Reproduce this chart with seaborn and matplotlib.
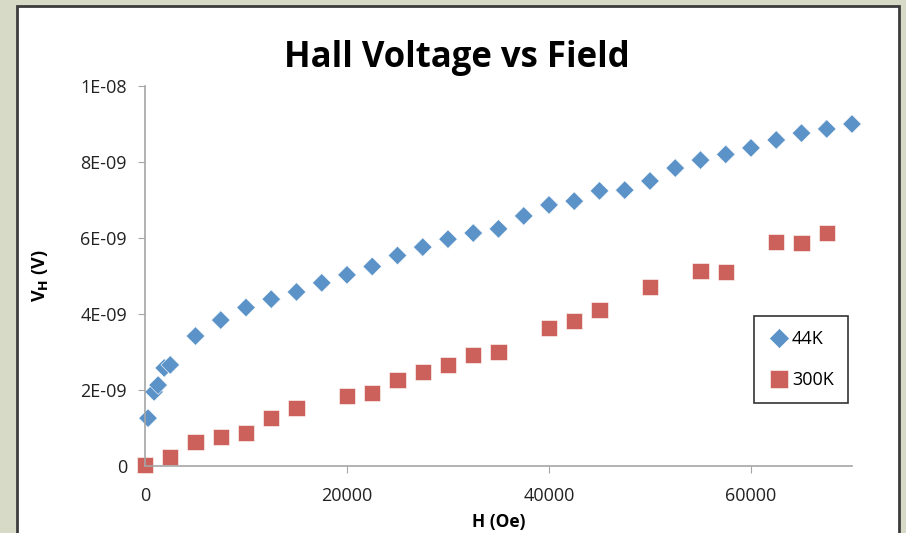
import numpy as np
import pandas as pd
import matplotlib
matplotlib.use("Agg")
import matplotlib.pyplot as plt
import seaborn as sns
from matplotlib.patches import Rectangle

# data
h_44k = [300, 900, 1300, 1900, 2500, 5000, 7500, 10000, 12500, 15000, 17500,
         20000, 22500, 25000, 27500, 30000, 32500, 35000, 37500, 40000, 42500,
         45000, 47500, 50000, 52500, 55000, 57500, 60000, 62500, 65000, 67500, 70000]
v_44k = [1.26, 1.95, 2.13, 2.58, 2.66, 3.42, 3.84, 4.17, 4.39, 4.58, 4.82,
         5.03, 5.25, 5.54, 5.76, 5.97, 6.13, 6.24, 6.58, 6.87, 6.97,
         7.24, 7.26, 7.50, 7.84, 8.05, 8.20, 8.37, 8.58, 8.76, 8.87, 9.00]
h_300k = [0, 2500, 5000, 7500, 10000, 12500, 15000, 20000, 22500, 25000, 27500,
          30000, 32500, 35000, 40000, 42500, 45000, 50000, 55000, 57500,
          62500, 65000, 67500]
v_300k = [0.02, 0.24, 0.63, 0.76, 0.87, 1.26, 1.53, 1.84, 1.92, 2.26, 2.47,
          2.66, 2.92, 3.00, 3.63, 3.82, 4.10, 4.71, 5.13, 5.10,
          5.90, 5.87, 6.13]

df = pd.concat([
    pd.DataFrame({"H": h_44k, "V": np.array(v_44k) * 1e-9, "T": "44K"}),
    pd.DataFrame({"H": h_300k, "V": np.array(v_300k) * 1e-9, "T": "300K"}),
])

sns.set_style("white")
plt.rcParams["font.family"] = ["Open Sans", "DejaVu Sans"]
plt.rcParams["text.color"] = "black"
plt.rcParams["axes.labelcolor"] = "black"

fig = plt.figure(figsize=(9.06, 5.33), dpi=100)
fig.patch.set_facecolor("#d8dac8")
# white chart area with dark frame
fig.patches.append(Rectangle((17 / 906, -0.01), 882 / 906, 1 - 6 / 533 + 0.01,
                             transform=fig.transFigure, facecolor="white",
                             edgecolor="#3c3c3c", linewidth=2, zorder=-10))

ax = fig.add_axes([145 / 906, 1 - 466 / 533, 707 / 906, 380 / 533])
ax.set_facecolor("none")
ax.set_zorder(5)

sns.scatterplot(data=df, x="H", y="V", hue="T", style="T",
                markers={"44K": "D", "300K": "s"},
                palette={"44K": "#5b93c8", "300K": "#cc605a"},
                size="T", sizes={"44K": 90, "300K": 140},
                edgecolor="white", linewidth=0.4, ax=ax, clip_on=False)

ax.set_xlim(0, 70000)
ax.set_ylim(0, 1e-8)
ax.set_xticks([0, 20000, 40000, 60000])
ax.set_yticks([0, 2e-9, 4e-9, 6e-9, 8e-9, 1e-8])
ax.set_yticklabels(["0", "2E-09", "4E-09", "6E-09", "8E-09", "1E-08"])
for s in ["top", "right"]:
    ax.spines[s].set_visible(False)
for s in ["left", "bottom"]:
    ax.spines[s].set_color("#a6a6a6")
    ax.spines[s].set_linewidth(1.2)
ax.tick_params(axis="both", which="major", length=5, color="#a6a6a6",
               direction="out", labelsize=13, labelcolor="#222222")
ax.tick_params(axis="x", pad=10)
ax.tick_params(axis="y", pad=8)
ax.tick_params(left=True, bottom=True)

ax.set_xlabel("H (Oe)", fontsize=12.5, fontweight="bold")
ax.set_ylabel(r"V$_\mathbf{H}$ (V)", fontsize=13, fontweight="bold")
ax.xaxis.set_label_coords(0.5, -0.125)
ax.yaxis.set_label_coords(-0.135, 0.5)
fig.text(457 / 906, 1 - 58 / 533, "Hall Voltage vs Field", ha="center", va="center",
         fontsize=25, fontweight="bold")

leg = ax.legend(loc="upper left", bbox_to_anchor=((754 - 145) / 707, (466 - 316) / 380),
                frameon=True, fancybox=False, edgecolor="black", fontsize=13,
                handletextpad=0.1, borderpad=0.8, labelspacing=1.25,
                handlelength=1.2, borderaxespad=0, markerscale=1.12)
leg.get_frame().set_linewidth(1.2)

fig.savefig("out.png", dpi=100, facecolor=fig.get_facecolor())
